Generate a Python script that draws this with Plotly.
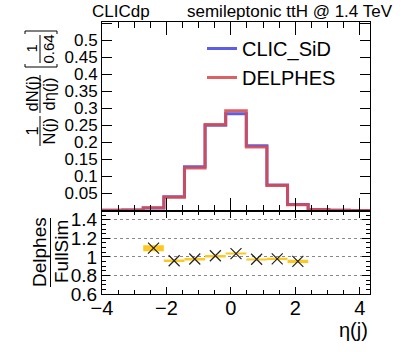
import plotly.graph_objects as go

# ---- data ----
bin_edges = [-4.0, -3.36, -2.72, -2.08, -1.44, -0.8, -0.16, 0.48, 1.12, 1.76, 2.4, 3.04, 3.68, 4.32]
clic_sid = [0.0005, 0.0015, 0.0072, 0.0405, 0.128, 0.250, 0.284, 0.190, 0.075, 0.0175, 0.003, 0.001, 0.0003]
delphes = [0.0005, 0.0015, 0.0080, 0.0390, 0.125, 0.2525, 0.293, 0.186, 0.0735, 0.0167, 0.003, 0.001, 0.0003]

ratio_x = [-2.4, -1.76, -1.12, -0.48, 0.16, 0.8, 1.44, 2.08]
ratio_val = [1.094, 0.958, 0.977, 1.012, 1.035, 0.975, 0.979, 0.951]
ratio_err = [0.032, 0.013, 0.010, 0.008, 0.006, 0.008, 0.012, 0.018]

top_ticks = [0.05, 0.1, 0.15, 0.2, 0.25, 0.3, 0.35, 0.4, 0.45, 0.5, 0.55]
top_tick_text = ["0.05", "0.1", "0.15", "0.2", "0.25", "0.3", "0.35", "0.4", "0.45", "0.5", ""]
ratio_ticks = [0.6, 0.8, 1.0, 1.2, 1.4]
ratio_tick_text = ["0.6", "0.8", "1", "1.2", "1.4"]

FONT = "Liberation Sans, Arial, Helvetica, sans-serif"
W, H = 411, 352
ML, MR, MT, MB = 102, 41, 22, 58
PW, PH = W - ML - MR, H - MT - MB
split = (294 - 210.5) / PH


def px(x):
    return (x - ML) / PW


def py(y):
    return (H - MB - y) / PH


def steps(vals):
    return list(vals) + [vals[-1]]


fig = go.Figure()
fig.add_trace(go.Scatter(x=bin_edges, y=steps(clic_sid), mode="lines", line_shape="hv",
                         line=dict(color="rgba(75,75,230,0.9)", width=3), name="CLIC_SiD",
                         xaxis="x", yaxis="y"))
fig.add_trace(go.Scatter(x=bin_edges, y=steps(delphes), mode="lines", line_shape="hv",
                         line=dict(color="rgba(215,75,80,0.88)", width=3), name="DELPHES",
                         xaxis="x", yaxis="y"))

fig.add_trace(go.Bar(x=ratio_x, y=[2 * e for e in ratio_err],
                     base=[v - e for v, e in zip(ratio_val, ratio_err)],
                     width=0.64, marker=dict(color="rgb(255,200,30)", line=dict(width=0)),
                     showlegend=False, xaxis="x2", yaxis="y2"))
fig.add_trace(go.Scatter(x=ratio_x, y=ratio_val, mode="markers",
                         marker=dict(symbol="x-thin", size=11, line=dict(width=1.2, color="#222")),
                         showlegend=False, xaxis="x2", yaxis="y2"))

axis_common = dict(showline=True, linecolor="black", linewidth=1, mirror="ticks",
                   ticks="inside", tickcolor="black", zeroline=False, showgrid=False,
                   automargin=False,
                   tickfont=dict(family=FONT, size=20, color="black"))

fig.update_layout(
    width=W, height=H,
    margin=dict(l=ML, r=MR, t=MT, b=MB, autoexpand=False),
    paper_bgcolor="white", plot_bgcolor="white",
    barmode="overlay",
    font=dict(family=FONT, color="black"),
    xaxis=dict(axis_common, domain=[0, 1], anchor="y", range=[-4, 4.32],
               dtick=2, tick0=0, ticklen=13, showticklabels=False,
               minor=dict(dtick=0.5, ticks="inside", ticklen=6, tickcolor="black")),
    yaxis=dict(axis_common, domain=[split, 1], anchor="x", range=[0, 0.553],
               tickvals=top_ticks, ticktext=top_tick_text, ticklen=10,
               tickfont=dict(family=FONT, size=17, color="black")),
    xaxis2=dict(axis_common, domain=[0, 1], anchor="y2", range=[-4, 4.32],
                dtick=2, tick0=0, ticklen=7, ticklabelstandoff=-4,
                minor=dict(dtick=0.5, ticks="inside", ticklen=4, tickcolor="black")),
    yaxis2=dict(axis_common, domain=[0, split], anchor="x2", range=[0.6, 1.5],
                tickvals=ratio_ticks, ticktext=ratio_tick_text, ticklen=8,
                tickfont=dict(family=FONT, size=19, color="black"),
                showgrid=True, gridcolor="#888", griddash="dot", gridwidth=1,
                minor=dict(dtick=0.05, tick0=0.6, ticks="inside", ticklen=4, tickcolor="black")),
    legend=dict(x=px(202), y=py(29), xanchor="left", yanchor="top",
                font=dict(family=FONT, size=20, color="black"),
                bgcolor="rgba(0,0,0,0)", tracegroupgap=0),
)

ann = []
ann.append(dict(text="CLICdp", x=px(90), y=py(12), xanchor="left", yanchor="middle",
                font=dict(size=17)))
ann.append(dict(text="semileptonic ttH @ 1.4 TeV", x=px(395), y=py(12), xanchor="right",
                yanchor="middle", font=dict(size=17)))
ann.append(dict(text="η(j)", x=px(370), y=py(330), xanchor="right", yanchor="middle",
                font=dict(size=20)))
ycol_num, ycol_den = 31.5, 48.5
for txt, x, y, s in [("1", ycol_num, 131, 16.5), ("N(j)", ycol_den, 131, 16.5),
                     ("dN(j)", ycol_num, 94, 16.5), ("dη(j)", ycol_den, 94, 16.5),
                     ("1", ycol_num, 49, 15), ("0.64", ycol_den, 49, 15)]:
    ann.append(dict(text=txt, x=px(x), y=py(y), xanchor="center", yanchor="middle",
                    textangle=-90, font=dict(size=s)))
ann.append(dict(text="Delphes", x=px(39), y=py(252), xanchor="center", yanchor="middle",
                textangle=-90, font=dict(size=19)))
ann.append(dict(text="FullSim", x=px(61), y=py(252), xanchor="center", yanchor="middle",
                textangle=-90, font=dict(size=19)))
for a in ann:
    a.update(xref="paper", yref="paper", showarrow=False)
    a.setdefault("font", {})
    a["font"].update(family=FONT, color="black")
fig.update_layout(annotations=ann)

shapes = []
for x, y0, y1 in [(40, 116, 146), (40, 75, 113), (40, 35, 63), (50.5, 218, 287)]:
    shapes.append(dict(type="line", xref="paper", yref="paper",
                       x0=px(x), x1=px(x), y0=py(y0), y1=py(y1),
                       line=dict(color="black", width=1)))
bx0, bx1 = 25, 57
shapes.append(dict(type="path", xref="paper", yref="paper",
                   path=f"M {px(bx0)},{py(64)} L {px(bx0)},{py(67)} L {px(bx1)},{py(67)} L {px(bx1)},{py(64)}",
                   line=dict(color="black", width=1)))
shapes.append(dict(type="path", xref="paper", yref="paper",
                   path=f"M {px(bx0)},{py(34)} L {px(bx0)},{py(31)} L {px(bx1)},{py(31)} L {px(bx1)},{py(34)}",
                   line=dict(color="black", width=1)))
fig.update_layout(shapes=shapes)

fig.write_html("out.html", config={"displayModeBar": False},
               post_script="document.body.style.margin='0';document.body.style.padding='0';")
